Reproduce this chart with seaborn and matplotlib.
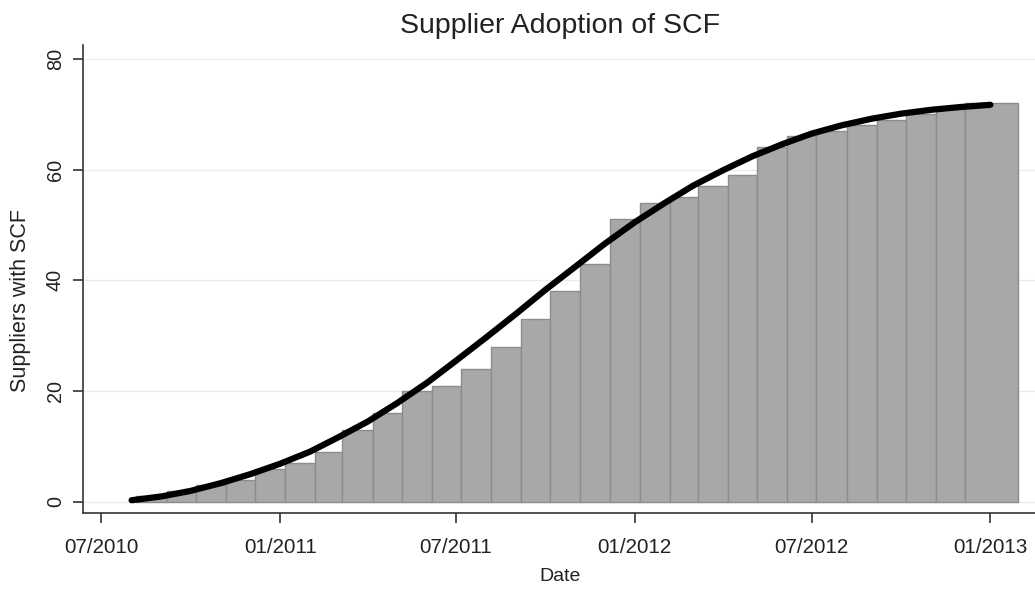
import matplotlib
matplotlib.use("Agg")
import matplotlib.pyplot as plt
import matplotlib.dates as mdates
import seaborn as sns
import numpy as np
import pandas as pd
from datetime import datetime

# ---------------- data ----------------
bar_months = ["2010-08", "2010-09", "2010-10", "2010-11", "2010-12",
              "2011-01", "2011-02", "2011-03", "2011-04", "2011-05", "2011-06",
              "2011-07", "2011-08", "2011-09", "2011-10", "2011-11", "2011-12",
              "2012-01", "2012-02", "2012-03", "2012-04", "2012-05", "2012-06",
              "2012-07", "2012-08", "2012-09", "2012-10", "2012-11", "2012-12"]
bar_counts = [1, 2, 3, 4, 6,
              7, 9, 13, 16, 20, 21,
              24, 28, 33, 38, 43, 51,
              54, 55, 57, 59, 64, 66,
              67, 68, 69, 70, 71, 72]
last_bar_end = "2013-01-29"

curve_months = ["2010-08", "2010-09", "2010-10", "2010-11", "2010-12",
                "2011-01", "2011-02", "2011-03", "2011-04", "2011-05", "2011-06",
                "2011-07", "2011-08", "2011-09", "2011-10", "2011-11", "2011-12",
                "2012-01", "2012-02", "2012-03", "2012-04", "2012-05", "2012-06",
                "2012-07", "2012-08", "2012-09", "2012-10", "2012-11", "2012-12",
                "2013-01"]
curve_values = [0.3, 1.0, 2.0, 3.4, 5.0,
                6.9, 9.1, 11.6, 14.5, 17.8, 21.5,
                25.5, 29.7, 34.0, 38.3, 42.5, 46.6,
                50.5, 54.0, 57.1, 59.9, 62.4, 64.6,
                66.5, 68.0, 69.2, 70.1, 70.8, 71.3,
                71.7]

tick_dates = ["2010-07", "2011-01", "2011-07", "2012-01", "2012-07", "2013-01"]
y_ticks = [0, 20, 40, 60, 80]

title = "Supplier Adoption of SCF"
xlabel = "Date"
ylabel = "Suppliers with SCF"

# ---------------- helpers ----------------
BIN_START_DAY = 6


def month_num(s, day=1):
    y, m = s.split("-")
    return mdates.date2num(datetime(int(y), int(m), day))


edges = [month_num(m, BIN_START_DAY) for m in bar_months]
edges.append(mdates.date2num(datetime.strptime(last_bar_end, "%Y-%m-%d")))
edges = [float(e) for e in edges]
bar_df = pd.DataFrame({
    "x": [(edges[i] + edges[i + 1]) / 2 for i in range(len(bar_counts))],
    "count": [float(c) for c in bar_counts],
})
curve_df = pd.DataFrame({
    "x": [month_num(m) for m in curve_months],
    "value": curve_values,
})

# ---------------- style ----------------
sns.set_style("white")
plt.rcParams["font.family"] = ["Liberation Sans", "DejaVu Sans"]

fig = plt.figure(figsize=(10.35, 5.89), dpi=100)
W, H = 1035, 589
ax_left, ax_right, ax_top, ax_bottom = 83, 1037, 45, 513
ax = fig.add_axes([ax_left / W, 1 - ax_bottom / H,
                   (ax_right - ax_left) / W, (ax_bottom - ax_top) / H])

sns.histplot(data=bar_df, x="x", weights="count", bins=edges, ax=ax,
             color="#a8a8a8", alpha=1.0, edgecolor="#8c8c8c", linewidth=1.0,
             zorder=2)
sns.lineplot(data=curve_df, x="x", y="value", ax=ax, color="black",
             linewidth=4.5, solid_capstyle="round", solid_joinstyle="round",
             zorder=3)

ax.set_ylim(-2, 82.5)
ax.set_xlim(mdates.date2num(datetime(2010, 6, 12)),
            mdates.date2num(datetime(2013, 2, 18)))

ax.set_yticks(y_ticks)
ax.set_yticklabels([str(v) for v in y_ticks], rotation=90, va="center")
ax.set_xticks([month_num(d) for d in tick_dates])
ax.xaxis.set_major_formatter(mdates.DateFormatter("%m/%Y"))

ax.grid(axis="y", color="#ececec", linewidth=1.0, zorder=0)
ax.grid(axis="x", visible=False)
ax.set_axisbelow(True)

for side in ["top", "right"]:
    ax.spines[side].set_visible(False)
for side in ["left", "bottom"]:
    ax.spines[side].set_color("#333333")
    ax.spines[side].set_linewidth(1.2)

ax.tick_params(axis="both", which="major", direction="out", length=7,
               width=1.2, color="#333333", labelcolor="#222222",
               left=True, bottom=True)
ax.tick_params(axis="x", pad=11, labelsize=14.8)
ax.tick_params(axis="y", pad=6, labelsize=14.3)

ax.set_xlabel(xlabel, fontsize=14, color="#222222", labelpad=8)
ax.set_ylabel("")
fig.text(21 / W, 1 - 300 / H, ylabel, rotation=90, ha="center", va="center",
         fontsize=15.5, color="#222222")

fig.text(560 / W, 1 - 33 / H, title, ha="center", va="baseline",
         fontsize=20.5, color="#222222")

fig.savefig("out.png", dpi=100)
